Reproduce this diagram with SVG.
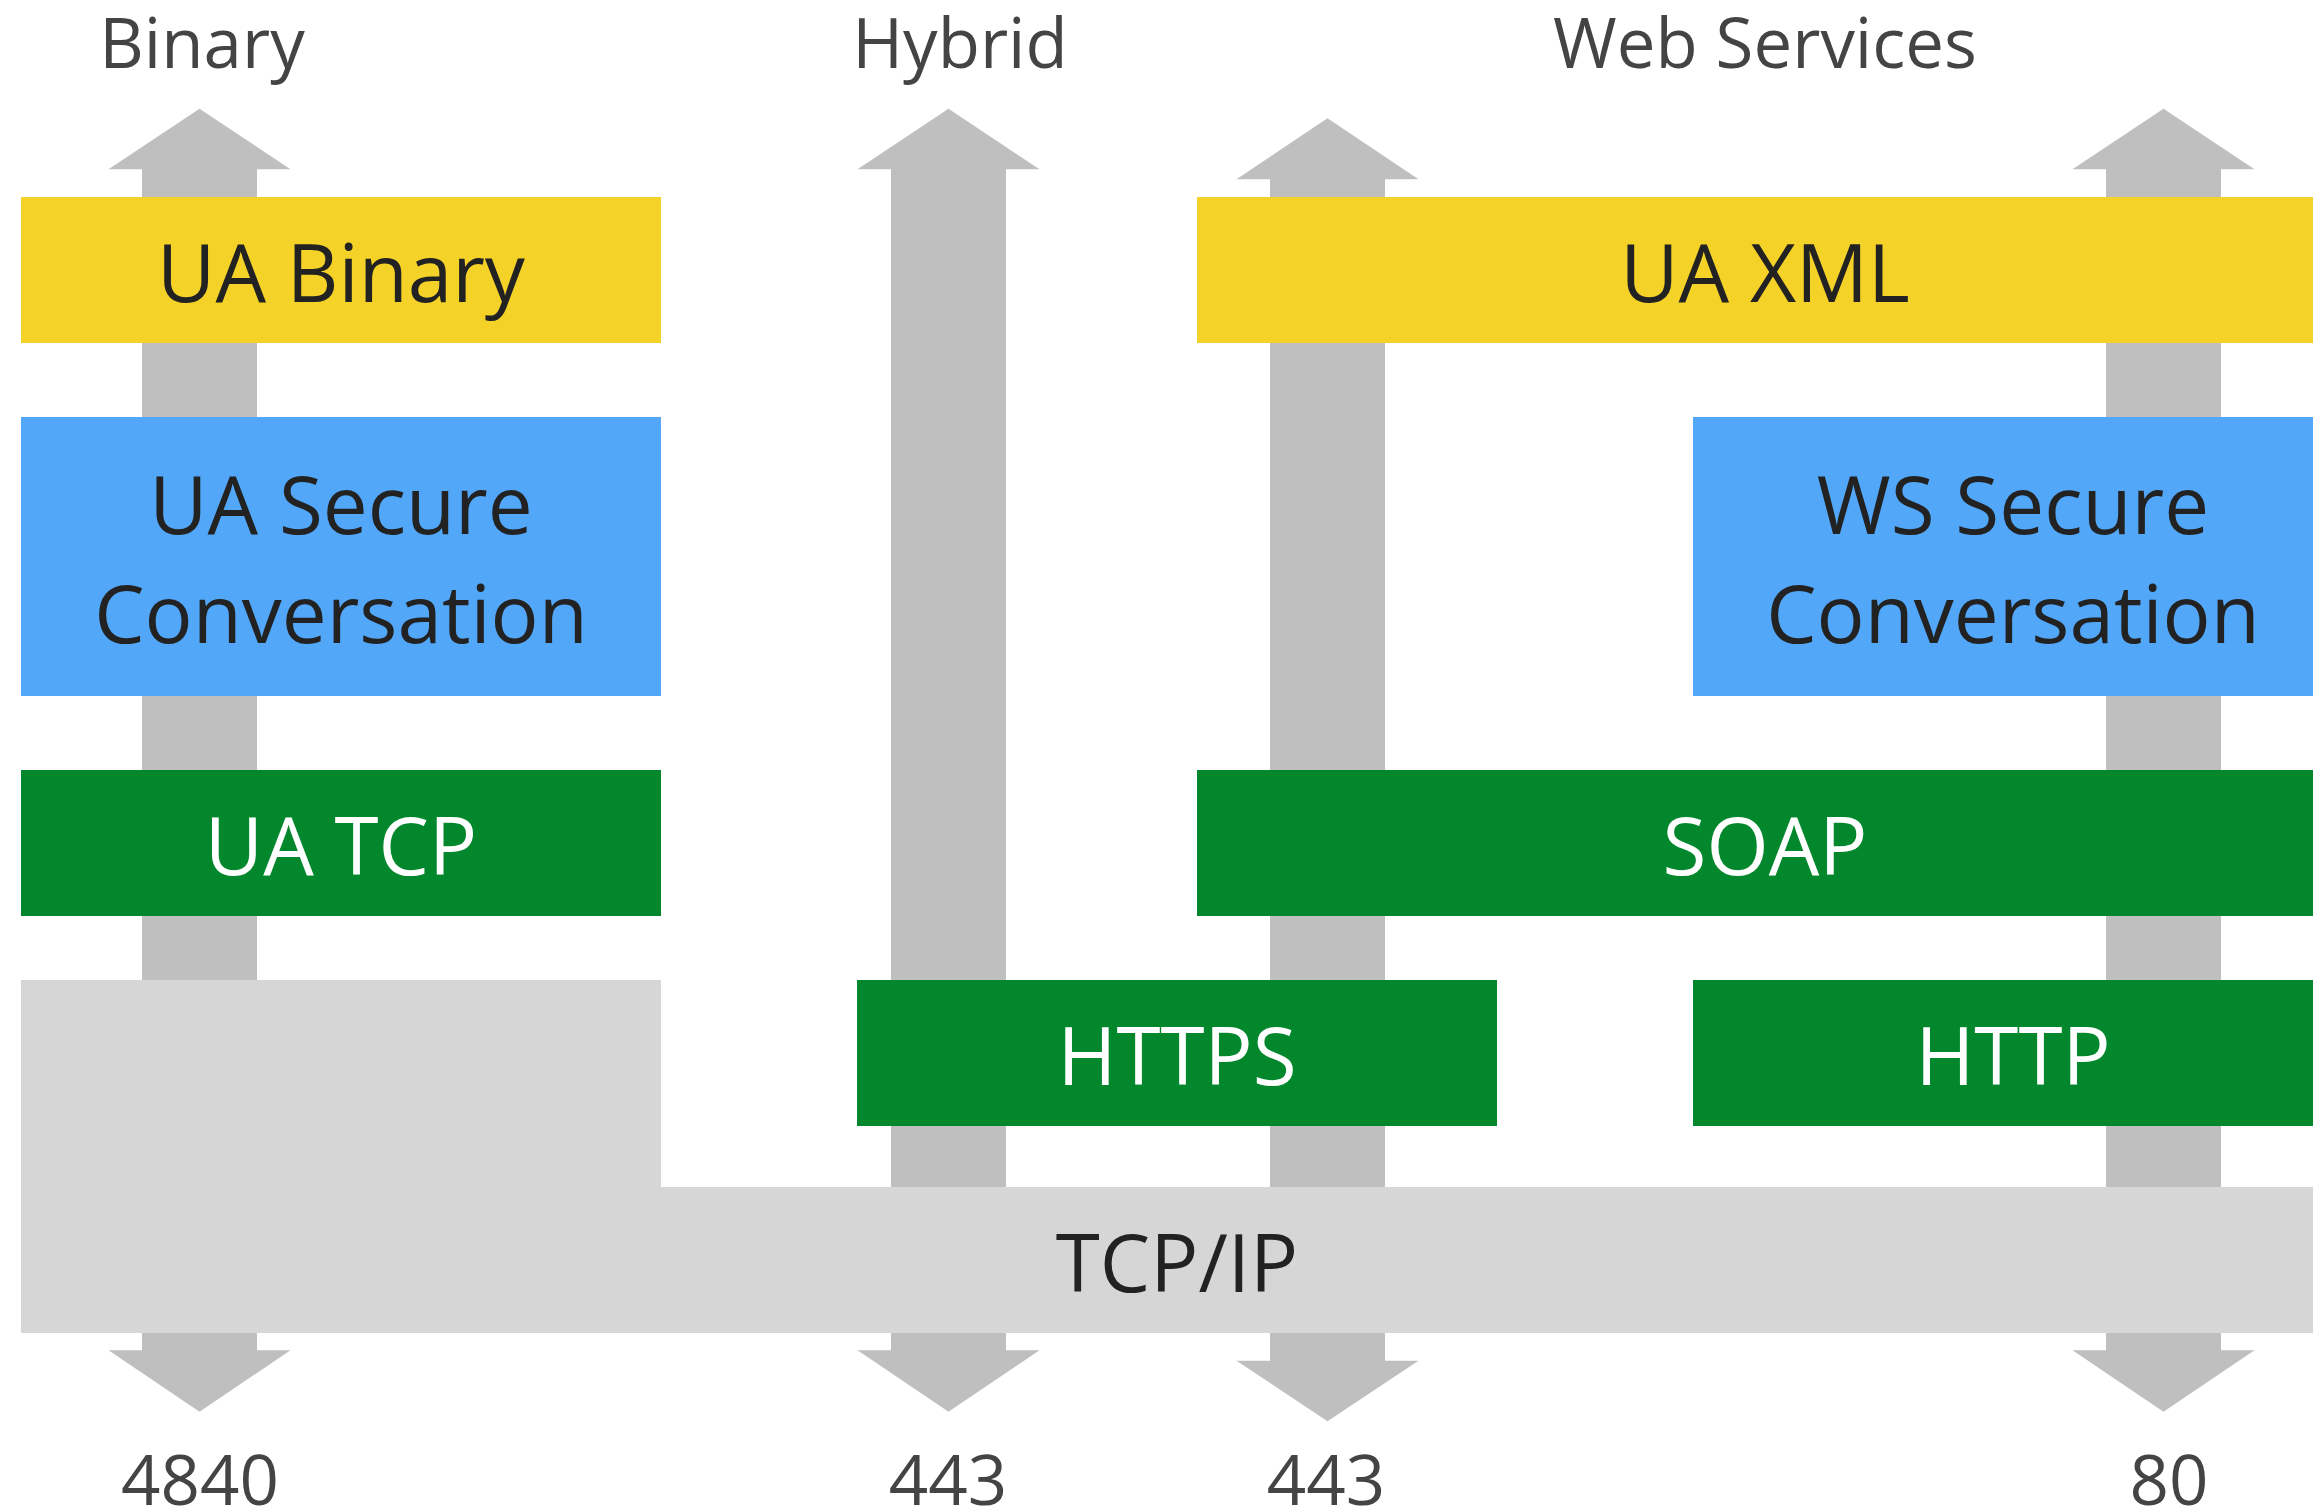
<svg xmlns="http://www.w3.org/2000/svg" width="2313" height="1512" viewBox="0 0 2313 1512">
<style>
text{font-family:"Open Sans","Noto Sans","Liberation Sans",sans-serif;text-anchor:middle}
.lbl{font-size:69px;fill:#444444}
.bt{font-size:80px;fill:#222222}
.wt{font-size:80px;fill:#ffffff}
.arrow{fill:#bfbfbf}
.yellow{fill:#f5d228}
.blue{fill:#52a7f9}
.green{fill:#02872d}
.gray{fill:#d6d6d6}
</style>
<rect width="2313" height="1512" fill="#ffffff"/>
<g id="labels">
<text class="lbl" x="202" y="68">Binary</text>
<text class="lbl" x="960" y="68">Hybrid</text>
<text class="lbl" x="1765" y="68">Web Services</text>
<text class="lbl" x="200" y="1505">4840</text>
<text class="lbl" x="948" y="1505">443</text>
<text class="lbl" x="1326" y="1505">443</text>
<text class="lbl" x="2169" y="1505">80</text>
</g>
<g id="connectors">
<path class="arrow" d="M199.5,108.7 L290.5,169.3 H257 V1350.3 H290.5 L199.5,1411.7 L108.5,1350.3 H142 V169.3 H108.5 Z"/>
<path class="arrow" d="M948.5,108.7 L1039.5,169.3 H1006 V1350.3 H1039.5 L948.5,1411.7 L857.5,1350.3 H891 V169.3 H857.5 Z"/>
<path class="arrow" d="M1327.5,118.3 L1418.5,179.3 H1385 V1360.7 H1418.5 L1327.5,1421.3 L1236.5,1360.7 H1270 V179.3 H1236.5 Z"/>
<path class="arrow" d="M2163.5,108.7 L2254.5,169.3 H2221 V1350.3 H2254.5 L2163.5,1411.7 L2072.5,1350.3 H2106 V169.3 H2072.5 Z"/>
</g>
<g id="tcpip">
<path class="gray" d="M21,980 H661 V1187 H2333 V1333 H21 Z"/>
<text class="bt" x="1177" y="1292">TCP/IP</text>
</g>
<g id="ua-binary">
<rect class="yellow" x="21" y="197" width="640" height="146"/>
<text class="bt" x="341" y="302">UA Binary</text>
</g>
<g id="ua-secure-conversation">
<rect class="blue" x="21" y="417" width="640" height="279"/>
<text class="bt" x="341" y="534">UA Secure</text>
<text class="bt" x="341" y="643">Conversation</text>
</g>
<g id="ua-tcp">
<rect class="green" x="21" y="770" width="640" height="146"/>
<text class="wt" x="341" y="875">UA TCP</text>
</g>
<g id="https">
<rect class="green" x="857" y="980" width="640" height="146"/>
<text class="wt" x="1177" y="1085">HTTPS</text>
</g>
<g id="ua-xml">
<rect class="yellow" x="1197" y="197" width="1136" height="146"/>
<text class="bt" x="1765" y="302">UA XML</text>
</g>
<g id="ws-secure-conversation">
<rect class="blue" x="1693" y="417" width="640" height="279"/>
<text class="bt" x="2013" y="534">WS Secure</text>
<text class="bt" x="2013" y="643">Conversation</text>
</g>
<g id="soap">
<rect class="green" x="1197" y="770" width="1136" height="146"/>
<text class="wt" x="1765" y="875">SOAP</text>
</g>
<g id="http">
<rect class="green" x="1693" y="980" width="640" height="146"/>
<text class="wt" x="2013" y="1085">HTTP</text>
</g>
</svg>
